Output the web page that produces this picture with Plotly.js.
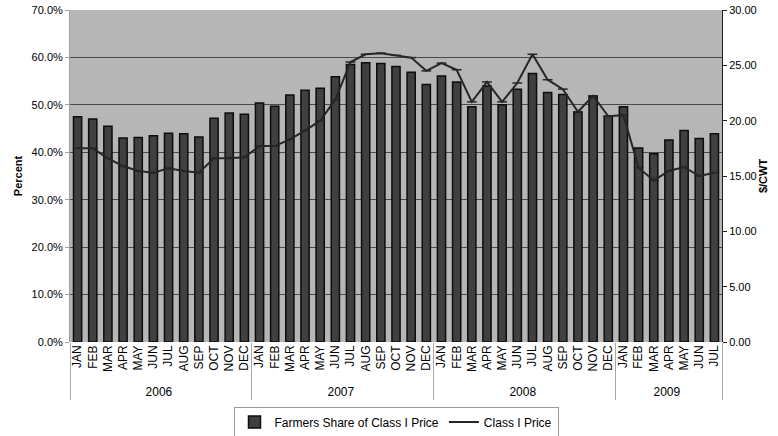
<!DOCTYPE html>
<html>
<head>
<meta charset="utf-8">
<script src="https://cdn.plot.ly/plotly-3.0.1.min.js"></script>
<style>
  html, body { margin: 0; padding: 0; background: #ffffff; }
  #chart { width: 778px; height: 436px; }
</style>
</head>
<body>
<div id="chart"></div>
<script>
// Monthly farmers' share of the Class I price (%) and the Class I price ($/CWT), Jan 2006 - Jul 2009
const years = [
  '2006','2006','2006','2006','2006','2006','2006','2006','2006','2006','2006','2006',
  '2007','2007','2007','2007','2007','2007','2007','2007','2007','2007','2007','2007',
  '2008','2008','2008','2008','2008','2008','2008','2008','2008','2008','2008','2008',
  '2009','2009','2009','2009','2009','2009','2009'
];
const months = [
  'JAN','FEB','MAR','APR','MAY','JUN','JUL','AUG','SEP','OCT','NOV','DEC',
  'JAN','FEB','MAR','APR','MAY','JUN','JUL','AUG','SEP','OCT','NOV','DEC',
  'JAN','FEB','MAR','APR','MAY','JUN','JUL','AUG','SEP','OCT','NOV','DEC',
  'JAN','FEB','MAR','APR','MAY','JUN','JUL'
];
const farmersShare = [
  47.5, 47.0, 45.5, 43.0, 43.1, 43.5, 44.0, 43.9, 43.2, 47.2, 48.3, 48.0,
  50.4, 49.7, 52.1, 53.1, 53.5, 55.9, 58.5, 58.9, 58.7, 58.1, 56.9, 54.3,
  56.1, 54.8, 49.6, 54.0, 50.0, 53.3, 56.6, 52.6, 52.2, 48.5, 51.8, 47.6,
  49.6, 40.9, 39.7, 42.6, 44.6, 42.9, 43.9
];
const classIPrice = [
  17.5, 17.5, 16.6, 15.9, 15.45, 15.3, 15.7, 15.45, 15.3, 16.6, 16.6, 16.7,
  17.7, 17.7, 18.3, 19.1, 20.0, 21.9, 25.3, 26.0, 26.1, 25.9, 25.7, 24.5,
  25.2, 24.6, 21.7, 23.5, 21.7, 23.4, 26.0, 23.7, 22.85, 20.8, 22.25, 20.4,
  20.5, 15.75, 14.6, 15.45, 15.8, 15.0, 15.3
];
const shareTicks = [0, 10, 20, 30, 40, 50, 60, 70];
const priceTicks = [0, 5, 10, 15, 20, 25, 30];

const font = 'Arial, "Liberation Sans", sans-serif';

const traces = [
  {
    type: 'bar',
    name: 'Farmers Share of Class I Price',
    x: [years, months],
    y: farmersShare,
    yaxis: 'y',
    marker: { color: '#404040', line: { color: '#0d0d0d', width: 1.5 } },
    hoverinfo: 'y'
  },
  {
    type: 'scatter',
    mode: 'lines+markers',
    name: 'Class I Price',
    x: [years, months],
    y: classIPrice,
    yaxis: 'y2',
    line: { color: '#262626', width: 2 },
    marker: { symbol: 'line-ew', size: 7, line: { color: '#262626', width: 1.5 } }
  }
];

const layout = {
  width: 778,
  height: 436,
  margin: { l: 70, r: 56, t: 10, b: 94 },
  paper_bgcolor: '#ffffff',
  plot_bgcolor: '#b6b6b6',
  font: { family: font, size: 11, color: '#000000' },
  bargap: 0.46,
  showlegend: true,
  legend: {
    orientation: 'h',
    x: 0.5, xanchor: 'center',
    yref: 'container',
    y: 0.032, yanchor: 'middle',
    bgcolor: '#ffffff',
    bordercolor: '#9a9a9a',
    borderwidth: 1,
    font: { family: font, size: 12, color: '#000000' },
    tracegroupgap: 0
  },
  xaxis: {
    type: 'multicategory',
    range: [-0.5, 42.5],
    automargin: false,
    tickangle: -90,
    tickfont: { family: font, size: 12, color: '#000000' },
    showdividers: true,
    dividercolor: '#a8a8a8',
    dividerwidth: 1,
    showgrid: false,
    showline: false,
    ticks: '',
    fixedrange: true
  },
  yaxis: {
    range: [0, 70],
    automargin: false,
    tickvals: shareTicks,
    ticktext: shareTicks.map(v => v.toFixed(1) + '%'),
    tickfont: { family: font, size: 11, color: '#000000' },
    showgrid: true,
    gridcolor: '#4a4a4a',
    gridwidth: 1,
    zeroline: false,
    showline: true,
    linecolor: '#a0a0a0',
    linewidth: 1,
    ticks: 'outside',
    ticklen: 4,
    tickcolor: '#a0a0a0',
    title: { text: 'Percent', font: { family: font, size: 11, weight: 'bold', color: '#000000' }, standoff: 6 }
  },
  yaxis2: {
    range: [0, 30],
    automargin: false,
    overlaying: 'y',
    side: 'right',
    tickvals: priceTicks,
    ticktext: priceTicks.map(v => v.toFixed(2)),
    tickfont: { family: font, size: 11, color: '#000000' },
    showgrid: false,
    zeroline: false,
    showline: true,
    linecolor: '#222222',
    linewidth: 1,
    ticks: 'outside',
    ticklen: 4,
    tickcolor: '#222222',
    title: { text: '$/CWT', font: { family: font, size: 11, weight: 'bold', color: '#000000' }, standoff: 3 }
  }
};

Plotly.newPlot('chart', traces, layout, { displayModeBar: false, staticPlot: true });
</script>
</body>
</html>
